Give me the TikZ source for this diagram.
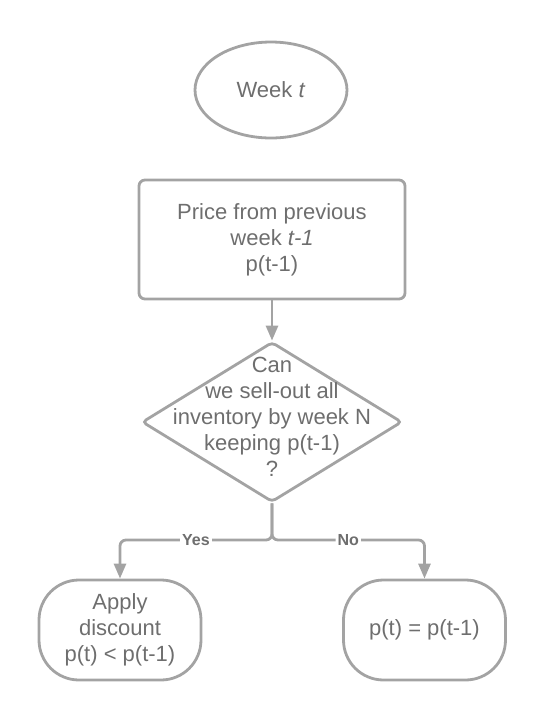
\documentclass[tikz,border=0pt]{standalone}
\usepackage{fontspec}
\setmainfont{Liberation Sans}
\usetikzlibrary{shapes.geometric, arrows.meta}
\definecolor{edgegray}{HTML}{A3A3A3}
\definecolor{textgray}{HTML}{6E6E6E}
\tikzset{
    startnode/.style={ellipse, draw=edgegray, line width=1.4pt, minimum width=76pt, minimum height=48pt, text=textgray},
    block/.style={rectangle, draw=edgegray, line width=1.4pt, rounded corners=3pt, minimum width=133pt, minimum height=59.5pt, text=textgray, align=center},
    decision/.style={diamond, draw=edgegray, line width=1.4pt, rounded corners=2pt, minimum width=130pt, minimum height=80pt, inner sep=0pt},
    outcome/.style={rectangle, draw=edgegray, line width=1.4pt, rounded corners=20pt, minimum width=81pt, minimum height=50pt, text=textgray, align=center},
    line/.style={draw=edgegray, line width=1.4pt, -{Triangle[width=6pt, length=7.5pt]}, rounded corners=3pt},
    branchlabel/.style={font=\fontsize{8}{9}\selectfont\bfseries, text=textgray, fill=white, inner sep=1pt},
}

\begin{document}
\begin{tikzpicture}[x=0.5pt, y=-0.5pt, font=\fontsize{11}{13}\selectfont]

    \useasboundingbox (0, 0) rectangle (546, 720);

    % Start
    \node[startnode] (week) at (271, 90) {Week \textit{t}};

    % Previous price
    \node[block] (prev) at (272, 239.5) {Price from previous\\week \textit{t-1}\\p(t-1)};

    % Decision
    \node[decision] (check) at (272, 422) {};
    \node[text=textgray, align=center, inner sep=0pt] (question) at (272, 417) {Can\\we sell-out all\\inventory by week N\\keeping p(t-1)\\?};

    % Outcomes
    \node[outcome] (discount) at (120, 630) {Apply\\discount\\p(t) < p(t-1)};
    \node[outcome] (keep) at (424.5, 630) {p(t) = p(t-1)};

    % Connectors
    \coordinate (split) at (272, 540);
    \draw[line] (prev.south) -- (check.north);
    \draw[line] (check.south) -- (split) -| node[branchlabel, pos=0.25] {Yes} (discount.north);
    \draw[line] (check.south) -- (split) -| node[branchlabel, pos=0.25] {No} (keep.north);

\end{tikzpicture}
\end{document}
